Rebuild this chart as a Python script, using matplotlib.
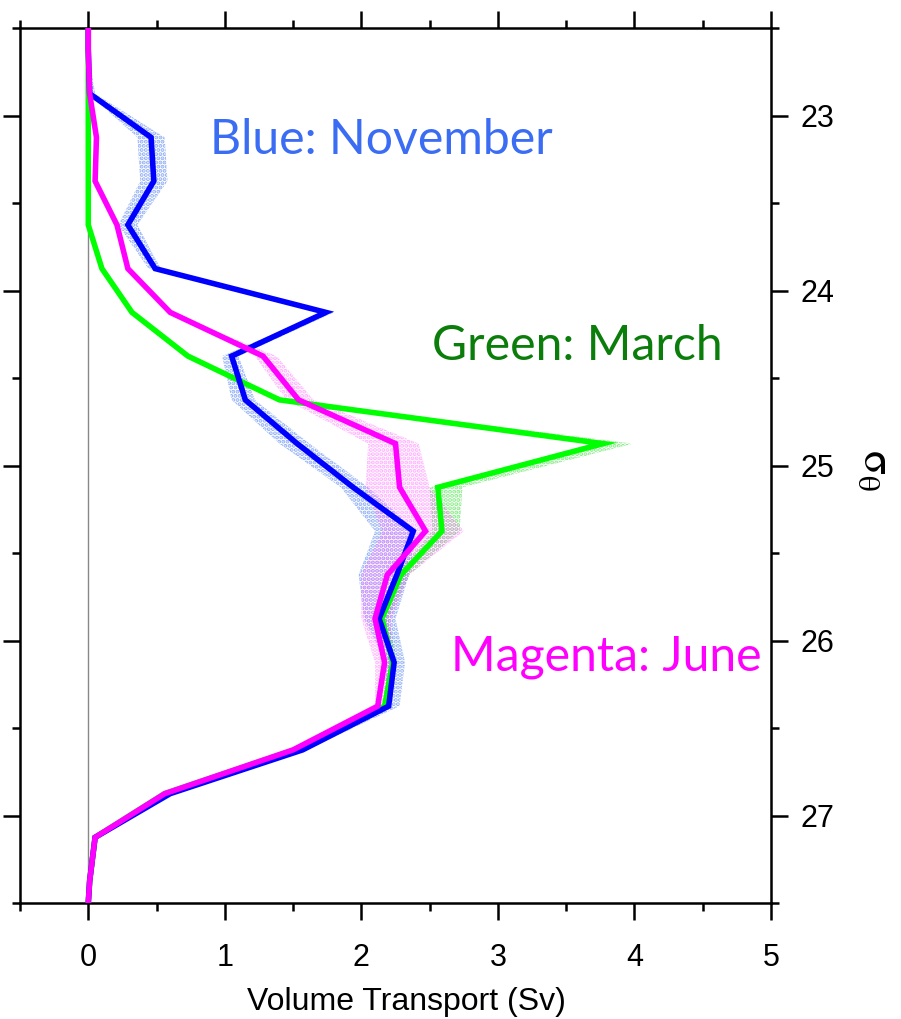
import matplotlib
matplotlib.use("Agg")
import matplotlib.pyplot as plt
import numpy as np

# Potential density levels (bin centres) and the plot edges
sigma = [22.5, 22.625, 22.875, 23.125, 23.375, 23.625, 23.875, 24.125, 24.375,
         24.625, 24.875, 25.125, 25.375, 25.625, 25.875, 26.125, 26.375,
         26.625, 26.875, 27.125, 27.375, 27.5]

# Volume transport per density class (Sv)
nov = [0, 0, 0.01, 0.46, 0.48, 0.29, 0.49, 1.74, 1.05, 1.15, 1.53, 1.94, 2.38,
       2.26, 2.13, 2.24, 2.20, 1.57, 0.60, 0.05, 0.01, 0]
mar = [0, 0, 0.0, 0.0, 0.0, 0.0, 0.10, 0.32, 0.73, 1.40, 3.77, 2.56, 2.59,
       2.29, 2.15, 2.23, 2.17, 1.51, 0.56, 0.05, 0.01, 0]
jun = [0, 0, 0.01, 0.06, 0.05, 0.21, 0.29, 0.60, 1.28, 1.54, 2.25, 2.28, 2.47,
       2.19, 2.10, 2.17, 2.12, 1.50, 0.56, 0.05, 0.01, 0]

# Spread of the estimates (lower / upper bounds)
nov_lo = [0, 0, 0.0, 0.36, 0.38, 0.22, 0.44, 1.72, 0.98, 1.05, 1.40, 1.85, 2.10,
          1.98, 2.02, 2.18, 2.17, 1.55, 0.58, 0.04, 0.0, 0]
nov_hi = [0, 0, 0.05, 0.56, 0.58, 0.36, 0.53, 1.80, 1.10, 1.22, 1.62, 2.05, 2.40,
          2.35, 2.25, 2.32, 2.28, 1.60, 0.62, 0.06, 0.02, 0]
mar_lo = [0, 0, 0.0, 0.0, 0.0, 0.0, 0.10, 0.32, 0.73, 1.38, 3.70, 2.50, 2.52,
          2.25, 2.12, 2.20, 2.15, 1.50, 0.56, 0.05, 0.01, 0]
mar_hi = [0, 0, 0.0, 0.0, 0.0, 0.0, 0.10, 0.32, 0.74, 1.45, 3.99, 2.74, 2.72,
          2.35, 2.20, 2.26, 2.19, 1.52, 0.56, 0.05, 0.01, 0]
jun_lo = [0, 0, 0.01, 0.06, 0.05, 0.21, 0.29, 0.60, 1.22, 1.45, 2.05, 2.03, 2.15,
          2.00, 2.00, 2.10, 2.10, 1.50, 0.56, 0.05, 0.01, 0]
jun_hi = [0, 0, 0.01, 0.06, 0.05, 0.21, 0.29, 0.60, 1.38, 1.65, 2.42, 2.50, 2.75,
          2.35, 2.22, 2.22, 2.15, 1.50, 0.56, 0.05, 0.01, 0]

xticks = [0, 1, 2, 3, 4, 5]
yticks = [23, 24, 25, 26, 27]

C_NOV = "#0000ff"
C_MAR = "#00ff00"
C_JUN = "#ff00ff"

plt.rcParams["hatch.linewidth"] = 2.0

fig = plt.figure(figsize=(9.01, 10.19), dpi=100)
ax = fig.add_axes([20 / 901, 1 - 903 / 1019, (771 - 20) / 901, (903 - 28) / 1019])

ax.axvline(0, color="#888888", lw=1.0, zorder=1)

series = [
    (mar, mar_lo, mar_hi, C_MAR, "#33dd33"),
    (nov, nov_lo, nov_hi, C_NOV, "#4477ee"),
    (jun, jun_lo, jun_hi, C_JUN, "#ff77ff"),
]
for i, (vals, lo, hi, col, hcol) in enumerate(series):
    ax.fill_betweenx(sigma, lo, hi, facecolor="none", edgecolor=hcol,
                     hatch="....", linewidth=0, alpha=0.6, zorder=2 + i)
for i, (vals, lo, hi, col, hcol) in enumerate(series):
    ax.plot(vals, sigma, color=col, lw=4.0, solid_joinstyle="miter",
            zorder=5 + i)

ax.set_xlim(-0.5, 5)
ax.set_ylim(27.5, 22.5)

ax.set_xticks(xticks)
ax.set_xticks(np.arange(-0.5, 5.01, 0.5), minor=True)
ax.set_yticks(yticks)
ax.set_yticks(np.arange(22.5, 27.51, 0.5), minor=True)

ax.tick_params(which="both", direction="out", top=True, bottom=True,
               left=True, right=True, labelleft=False, labelright=True,
               labeltop=False, labelbottom=True, width=1.8, colors="black")
ax.tick_params(which="major", length=12)
ax.tick_params(which="minor", length=6)
ax.tick_params(axis="x", which="major", pad=17, labelsize=22)
ax.tick_params(axis="y", which="major", pad=9, labelsize=22)
for lab in ax.get_xticklabels() + ax.get_yticklabels():
    lab.set_fontfamily("Liberation Sans")
for sp in ax.spines.values():
    sp.set_linewidth(1.8)

# Axis titles
fig.text(406 / 901, 1 - 1010 / 1019, "Volume Transport (Sv)", fontsize=23,
         family="Liberation Sans", ha="center", va="baseline")
fig.text(876 / 901, 1 - 470 / 1019, r"$\mathrm{\sigma}_\mathrm{\theta}$",
         fontsize=32, rotation=270, ha="center", va="center",
         math_fontfamily="stix")

ax.text(0.888, 23.22, "Blue: November", color="#3a6cf4", fontsize=34.7,
        family="Lato", ha="left", va="baseline", zorder=10)
ax.text(2.52, 24.40, "Green: March", color="#0a7d0a", fontsize=34.7,
        family="Lato", ha="left", va="baseline", zorder=10)
ax.text(2.66, 26.17, "Magenta: June", color="#ff00ff", fontsize=34.7,
        family="Lato", ha="left", va="baseline", zorder=10)

fig.savefig("out.png", dpi=100)
